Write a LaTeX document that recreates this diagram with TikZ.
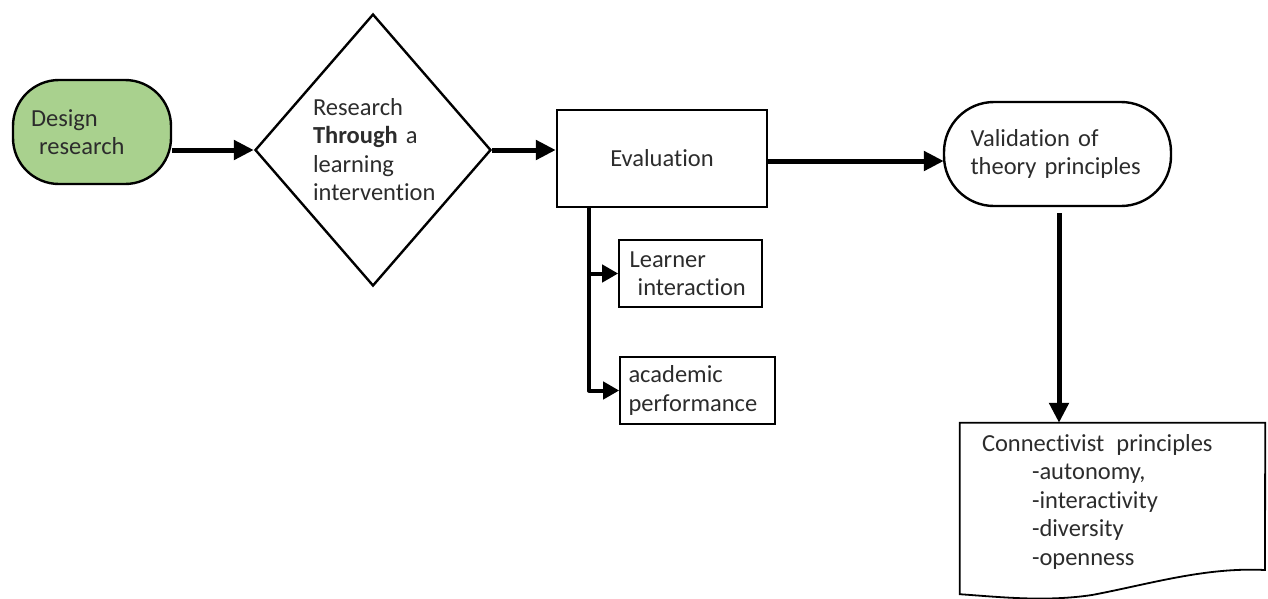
\documentclass[tikz,border=0pt]{standalone}
\usepackage{fontspec}
\setmainfont{Carlito}[Ligatures=NoCommon]
\usetikzlibrary{arrows.meta,shapes.geometric,calc}
\definecolor{startgreen}{HTML}{A9D18E}
\definecolor{inktext}{HTML}{2C2C2C}
\begin{document}
\begin{tikzpicture}[x=1pt,y=-1pt,
  every node/.style={font=\fontsize{24.5}{28.5}\selectfont, text=inktext},
  mainbox/.style={draw=black, line width=2.4pt},
  subbox/.style={draw=black, line width=1.6pt},
  flow/.style={line width=5pt, -{Triangle[length=20pt,width=19pt]}},
  branch/.style={line width=4pt, line join=round, -{Triangle[length=16pt,width=17pt]}}]
\useasboundingbox (0,0) rectangle (1268,598);

% start terminator
\node[mainbox, fill=startgreen, rounded corners=46pt, minimum width=158pt,
      minimum height=104pt, text width=122pt, align=left, inner sep=0pt]
      (design) at (92,132) {Design\\\ research};

% decision diamond and its text
\node[diamond, mainbox, minimum width=236pt, minimum height=272pt, inner sep=0pt]
      (diam) at (373,150) {};
\node[text width=128pt, align=left, inner sep=0pt] (diamtext) at (377,149.5)
      {Research\\\textbf{Through} a\\learning\\intervention};

% evaluation step
\node[mainbox, minimum width=210pt, minimum height=97pt, inner sep=0pt]
      (eval) at (662,158.5) {Evaluation};

% validation terminator
\node[mainbox, rounded corners=50pt, minimum width=227pt, minimum height=104pt,
      text width=174pt, align=left, inner sep=0pt]
      (valid) at (1057.5,154) {Validation of\\theory principles};

% evaluation outcomes
\node[subbox, minimum width=143pt, minimum height=67pt, text width=122pt,
      align=left, inner sep=0pt] (learn) at (690.5,273.5) {Learner\\\ interaction};
\node[subbox, minimum width=155pt, minimum height=67pt, text width=138pt,
      align=left, inner sep=0pt] (acad) at (697.5,390.5) {academic\\performance};

% document shape with wavy bottom
\node[minimum width=305pt, minimum height=171pt, inner sep=0pt] (doc) at (1112.5,508.5) {};
\draw[line width=1.8pt, line join=miter]
  (doc.north west) -- (doc.north east) -- (1265,570)
  .. controls (1205,567) and (1150,584) .. (1092,595)
  .. controls (1045,602) and (1000,597) .. (doc.south west) -- cycle;
\node[text width=236pt, align=left, inner sep=0pt] (doctext) at (1100,501.5)
  {Connectivist\hspace{4pt} principles\\
   \hspace*{50pt}-autonomy,\\
   \hspace*{50pt}-interactivity\\
   \hspace*{50pt}-diversity\\
   \hspace*{50pt}-openness};

% connectors
\draw[flow] (design.east |- diam.west) -- (diam.west);
\draw[flow] (diam.east) -- (eval.west |- diam.east);
\draw[flow] ($(eval.east)+(0,2.5)$) -- ($(valid.west)+(1,7)$);
\draw[flow] ($(valid.south)+(1.5,6)$) -- (doc.north -| {$(valid.south)+(1.5,6)$});
\draw[branch] ($(eval.south west)+(33,0)$) |- (learn.west);
\draw[branch] ($(eval.south west)+(33,0)$) |- (acad.west);
\end{tikzpicture}
\end{document}
